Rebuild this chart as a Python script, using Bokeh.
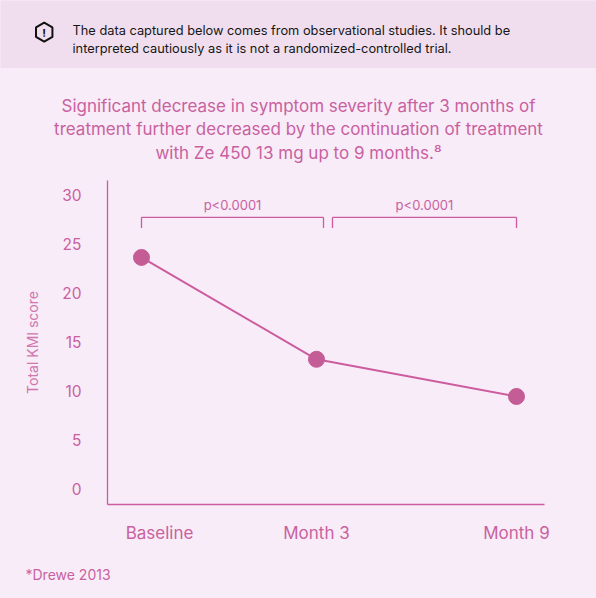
from bokeh.plotting import figure
from bokeh.models import (FactorRange, Range1d, FixedTicker, Label, ColumnDataSource,
                          CategoricalAxis)
from bokeh.layouts import column
from bokeh.embed import file_html
from bokeh.resources import INLINE
from bokeh.core.properties import value

# ---------------- data ----------------
categories = ["Baseline", "Month 3", "Month 9"]
phase = ["initial", "initial", "continued"]          # treatment phase of each visit
scores = [23.6, 13.2, 9.4]                             # Total KMI score
y_ticks = [0, 5, 10, 15, 20, 25, 30]
comparisons = [("Baseline", "Month 3"), ("Month 3", "Month 9")]
p_values = ["p<0.0001", "p<0.0001"]

banner_lines = [
    "The data captured below comes from observational studies. It should be",
    "interpreted cautiously as it is not a randomized-controlled trial.",
]
title_lines = [
    "Significant decrease in symptom severity after 3 months of",
    "treatment further decreased by the continuation of treatment",
    "with Ze 450 13 mg up to 9 months.\u2078",
]
footnote = "*Drewe 2013"

# ---------------- styles ----------------
FONT = "Inter"
PINK = "#c9619f"
PINK_LINE = "#cc5c9e"
PINK_DOT = "#c45c96"
PINK_LIGHT = "#d077ad"
BG = "#f8ecf8"
BANNER_BG = "#f0deee"
W = 596

# factor range layout (padding between visits)
FP, GP = 1.5735, 1.9412


def synth(cat, off=0.0):
    pos, prev = None, None
    for c, g in zip(categories, phase):
        if pos is None:
            pos = 0.5
        else:
            pos += 1 + (FP if g == prev else GP)
        prev = g
        if c == cat:
            return pos + off
    return None


def fx(cat, off=0.0):
    return (phase[categories.index(cat)], cat, off)


def text_fig(height, bg):
    f = figure(width=W, height=height, x_range=Range1d(0, W), y_range=Range1d(height, 0),
               output_backend="svg", toolbar_location=None, title=None,
               x_axis_location=None, y_axis_location=None, min_border=0)
    f.background_fill_color = bg
    f.border_fill_color = bg
    f.outline_line_color = None
    f.xgrid.visible = False
    f.ygrid.visible = False
    f.frame_align = False
    return f


# ---------------- banner ----------------
banner = text_fig(68, BANNER_BG)
banner.scatter(x=[43.7], y=[31.7], marker="hex", angle=1.5708, size=19,
               fill_color=None, line_color="#111111", line_width=2)
banner.add_layout(Label(x=43.7, y=32.3, text="!", text_font=FONT, text_font_style="bold",
                        text_font_size="11px", text_color="#111111",
                        text_align="center", text_baseline="middle"))
for i, t in enumerate(banner_lines):
    banner.add_layout(Label(x=72, y=29.5 + 18 * i, text=t, text_font=FONT,
                            text_font_size="12.8px", text_color="#161616",
                            text_align="left", text_baseline="middle"))

# ---------------- heading ----------------
heading = text_fig(112, BG)
for i, t in enumerate(title_lines):
    heading.add_layout(Label(x=298, y=37 + 23.8 * i, text=t, text_font=FONT,
                             text_font_size="17px", text_color=PINK,
                             text_align="center", text_baseline="middle"))

# ---------------- main chart ----------------
x_range = FactorRange(factors=[(g, c) for g, c in zip(phase, categories)],
                      factor_padding=FP, group_padding=GP, range_padding=0)
p = figure(width=W, height=376, x_range=x_range, y_range=Range1d(-1.633, 31.46),
           output_backend="svg", toolbar_location=None, title=None, x_axis_location=None,
           min_border_left=107, min_border_right=46, min_border_top=0, min_border_bottom=52)
p.background_fill_color = BG
p.border_fill_color = BG
p.outline_line_color = None
p.xgrid.visible = False
p.ygrid.visible = False
p.frame_align = False

ya = p.yaxis[0]
ya.ticker = FixedTicker(ticks=y_ticks)
ya.axis_line_color = PINK_LINE
ya.axis_line_width = 1.3
ya.major_tick_line_color = None
ya.minor_tick_line_color = None
ya.major_label_text_font = FONT
ya.major_label_text_font_size = "15.5px"
ya.major_label_text_color = PINK
ya.major_label_standoff = 20
ya.axis_label = "Total KMI score"
ya.axis_label_text_font = FONT
ya.axis_label_text_font_size = "14px"
ya.axis_label_text_font_style = "normal"
ya.axis_label_text_color = PINK_LIGHT
ya.axis_label_standoff = 18

# category axis: its own factor range so labels sit where the design puts them
LBL_SP, LBL_GP = 7.7222, 10.1111
label_range = FactorRange(
    factors=[("A", "s", "")] + [("A" if g == "initial" else "B", "s" if c == categories[0] else c, c)
                                for g, c in zip(phase, categories)],
    factor_padding=0, subgroup_padding=LBL_SP, group_padding=LBL_GP,
    range_padding=0.12723, range_padding_units="percent")
p.extra_x_ranges = {"labels": label_range}
xa = CategoricalAxis(x_range_name="labels")
xa.bounds = (-1.3889, 22.8889)
xa.axis_line_color = PINK_LINE
xa.axis_line_width = 1.3
xa.major_tick_line_color = None
xa.minor_tick_line_color = None
xa.major_label_text_font = FONT
xa.major_label_text_font_size = "17px"
xa.major_label_text_color = PINK
xa.major_label_standoff = 12
xa.subgroup_text_color = None
xa.subgroup_text_font_size = "1px"
xa.group_text_color = None
xa.group_text_font_size = "1px"
xa.separator_line_color = None
p.add_layout(xa, "below")

src = ColumnDataSource(dict(x=[fx(c) for c in categories], y=scores))
p.line(x="x", y="y", source=src, line_color=PINK_LINE, line_width=2)
p.scatter(x="x", y="y", source=src, size=16, fill_color=PINK_DOT, line_color=PINK_DOT)

# significance brackets
BR_TOP, BR_TICK, P_Y = 27.7, 26.6, 29.0
gaps = [(0.0, 0.103), (0.235, 0.0)]
seg = dict(x0=[], y0=[], x1=[], y1=[])
txt = dict(x=[], y=[], text=[])
for (c0, c1), (o0, o1), pv in zip(comparisons, gaps, p_values):
    a, b = fx(c0, o0), fx(c1, o1)
    for (xa0, ya0, xb0, yb0) in [(a, BR_TOP, b, BR_TOP), (a, BR_TOP, a, BR_TICK), (b, BR_TOP, b, BR_TICK)]:
        seg["x0"].append(xa0); seg["y0"].append(ya0); seg["x1"].append(xb0); seg["y1"].append(yb0)
    mid = (synth(c0, o0) + synth(c1, o1)) / 2 - synth(c0)
    txt["x"].append(fx(c0, mid)); txt["y"].append(P_Y); txt["text"].append(pv)
p.segment(x0="x0", y0="y0", x1="x1", y1="y1", source=ColumnDataSource(seg),
          line_color=PINK_LINE, line_width=1.3)
p.text(x="x", y="y", text="text", source=ColumnDataSource(txt), text_font=value(FONT),
       text_font_size="13px", text_color=PINK, text_align="center", text_baseline="middle")

# ---------------- footnote ----------------
foot = text_fig(42, BG)
foot.add_layout(Label(x=25, y=18, text=footnote, text_font=FONT, text_font_size="14px",
                      text_color=PINK, text_align="left", text_baseline="middle"))

layout = column(banner, heading, p, foot, spacing=0, styles={"background-color": BG})
open("out.html", "w").write(file_html(layout, INLINE))
